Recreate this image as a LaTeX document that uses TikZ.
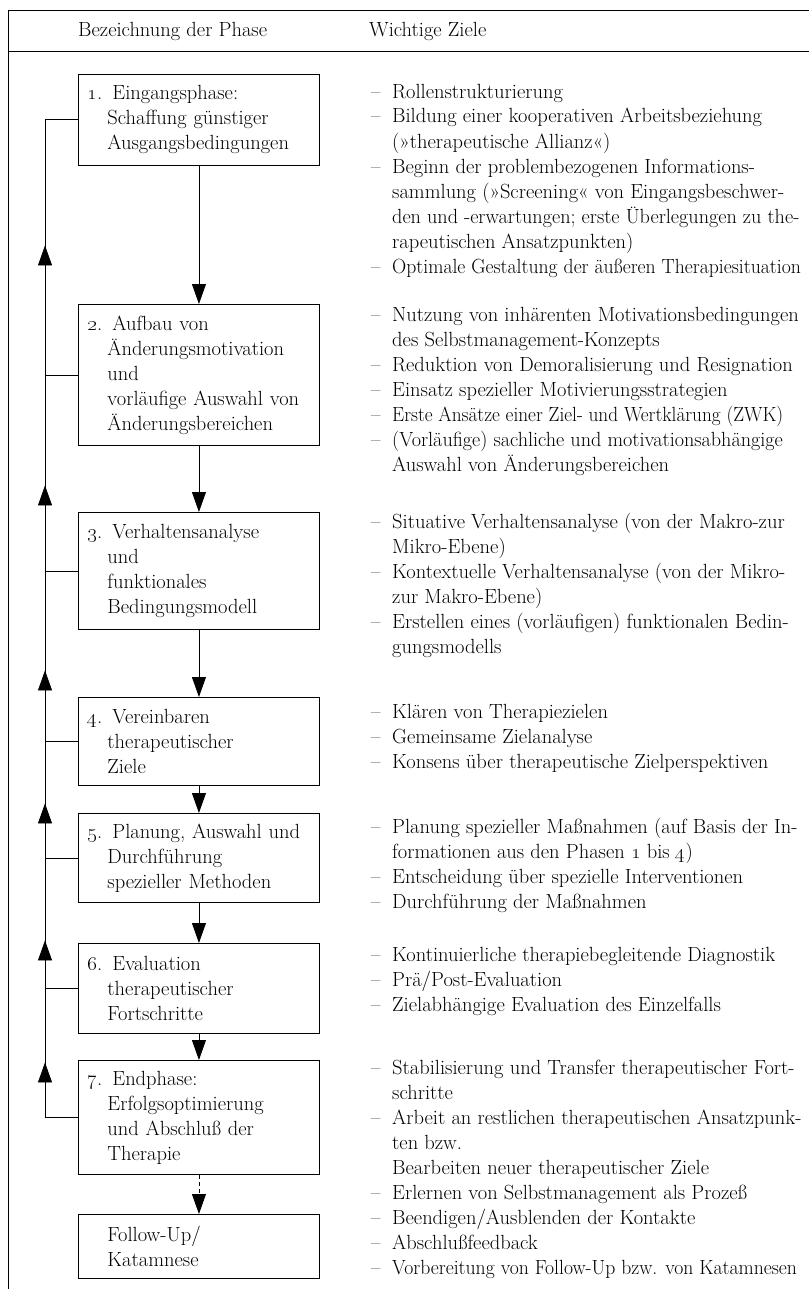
\documentclass[tikz,border=0pt]{standalone}
\usepackage{graphicx}
\usetikzlibrary{arrows.meta,decorations.markings}
% continuation indent inside the phase boxes
\newcommand\phind{\hspace*{20pt}}
% bullet and hanging indent of the goal lists
\newcommand\gbul{\makebox[21pt][l]{–}}
\newcommand\gind{\hspace*{21pt}}
% slightly narrower setting for the longest lines
\newcommand\tight[2][0.96]{\scalebox{#1}[1]{#2}}
\begin{document}
\begin{tikzpicture}[x=1pt,y=-1pt,
  every node/.style={inner sep=0pt,font=\fontsize{20.5}{25}\selectfont},
  rule/.style={line width=0.9pt},
  phase/.style={draw,line width=0.9pt,anchor=north west,minimum width=241pt,
    text width=223pt,inner xsep=9pt,align=left},
  % a goal list is placed by the baseline of its last line
  goals/.style={anchor=base west,align=left},
  fbtip/.tip={Triangle[length=20pt,width=14pt]},
  flow/.style={line width=0.9pt,-{Triangle[length=20pt,width=14pt]}}]
\useasboundingbox (0,0) rectangle (809,1289);

% table frame and header
\draw[rule] (8,1289) -- (8,10) -- (809,10);
\draw[rule] (8,51) -- (809,51);
\node[anchor=base west] (h1) at (78,37) {Bezeichnung der Phase};
\node[anchor=base west] (h2) at (369,37) {Wichtige Ziele};

% phases
\node[phase,minimum height=91pt] (p1) at (78,74)
  {\oldstylenums{1}. Eingangsphase:\\\phind Schaffung günstiger\\\phind Ausgangsbedingungen};
\node[phase,minimum height=141pt] (p2) at (78,304)
  {\oldstylenums{2}. Aufbau von\\\phind Änderungsmotivation\\\phind und\\\phind vorläufige Auswahl von\\\phind Änderungsbereichen};
\node[phase,minimum height=117pt] (p3) at (78,512)
  {\oldstylenums{3}. Verhaltensanalyse\\\phind und\\\phind funktionales\\\phind Bedingungsmodell};
\node[phase,minimum height=88pt] (p4) at (78,697)
  {\oldstylenums{4}. Vereinbaren\\\phind therapeutischer\\\phind Ziele};
\node[phase,minimum height=89pt] (p5) at (78,813)
  {\oldstylenums{5}. Planung, Auswahl und\\\phind Durchführung\\\phind spezieller Methoden};
\node[phase,minimum height=90pt] (p6) at (78,943)
  {\oldstylenums{6}. Evaluation\\\phind therapeutischer\\\phind Fortschritte};
\node[phase,minimum height=114pt] (p7) at (78,1060)
  {\oldstylenums{7}. Endphase:\\\phind Erfolgsoptimierung\\\phind und Abschluß der\\\phind Therapie};
\node[phase,minimum height=64pt] (p8) at (78,1214)
  {\phind Follow-Up/\\\phind Katamnese};

% forward flow
\draw[flow] (p1.south) -- (p2.north);
\draw[flow] (p2.south) -- (p3.north);
\draw[flow] (p3.south) -- (p4.north);
\draw[flow] (p4.south) -- (p5.north);
\draw[flow] (p5.south) -- (p6.north);
\draw[flow] (p6.south) -- (p7.north);
\draw[flow,dash pattern=on 4pt off 3pt] (p7.south) -- (p8.north);

% feedback loop on the left
\coordinate (fb) at (45,0);
\foreach \p in {p1,p2,p3,p4,p5,p6,p7}
  \draw[rule] (\p.west) -- (\p.west -| fb);
\draw[rule,postaction={decorate},decoration={markings,
    mark=at position 55pt with {\arrow{fbtip}},
    mark=at position 177pt with {\arrow{fbtip}},
    mark=at position 314pt with {\arrow{fbtip}},
    mark=at position 447pt with {\arrow{fbtip}},
    mark=at position 632pt with {\arrow{fbtip}},
    mark=at position 872pt with {\arrow{fbtip}}}]
  (p7.west -| fb) -- (p1.west -| fb);

% goals
\node[goals] (g1) at (371,273)
  {\gbul Rollenstrukturierung\\
   \gbul Bildung einer kooperativen Arbeitsbeziehung\\
   \gind (»therapeutische Allianz«)\\
   \gbul Beginn der problembezogenen Informations-\\
   \gind sammlung (»Screening« von Eingangsbeschwer-\\
   \gind \tight[0.985]{den und -erwartungen; erste Überlegungen zu the-}\\
   \gind rapeutischen Ansatzpunkten)\\
   \gbul \tight{Optimale Gestaltung der äußeren Therapiesituation}};
\node[goals] (g2) at (371,471)
  {\gbul Nutzung von inhärenten Motivationsbedingungen\\
   \gind des Selbstmanagement-Konzepts\\
   \gbul Reduktion von Demoralisierung und Resignation\\
   \gbul Einsatz spezieller Motivierungsstrategien\\
   \gbul \tight[0.94]{Erste Ansätze einer Ziel- und Wertklärung (ZWK)}\\
   \gbul \tight[0.985]{(Vorläufige) sachliche und motivationsabhängige}\\
   \gind Auswahl von Änderungsbereichen};
\node[goals] (g3) at (371,653)
  {\gbul Situative Verhaltensanalyse (von der Makro-zur\\
   \gind Mikro-Ebene)\\
   \gbul Kontextuelle Verhaltensanalyse (von der Mikro-\\
   \gind zur Makro-Ebene)\\
   \gbul Erstellen eines (vorläufigen) funktionalen Bedin-\\
   \gind gungsmodells};
\node[goals] (g4) at (371,768)
  {\gbul Klären von Therapiezielen\\
   \gbul Gemeinsame Zielanalyse\\
   \gbul Konsens über therapeutische Zielperspektiven};
\node[goals] (g5) at (371,908)
  {\gbul Planung spezieller Maßnahmen (auf Basis der In-\\
   \gind formationen aus den Phasen \oldstylenums{1} bis \oldstylenums{4})\\
   \gbul Entscheidung über spezielle Interventionen\\
   \gbul Durchführung der Maßnahmen};
\node[goals] (g6) at (371,1011)
  {\gbul Kontinuierliche therapiebegleitende Diagnostik\\
   \gbul Prä/Post-Evaluation\\
   \gbul Zielabhängige Evaluation des Einzelfalls};
\node[goals] (g7) at (371,1274)
  {\gbul Stabilisierung und Transfer therapeutischer Fort-\\
   \gind schritte\\
   \gbul Arbeit an restlichen therapeutischen Ansatzpunk-\\
   \gind ten bzw.\\
   \gind Bearbeiten neuer therapeutischer Ziele\\
   \gbul Erlernen von Selbstmanagement als Prozeß\\
   \gbul Beendigen/Ausblenden der Kontakte\\
   \gbul Abschlußfeedback\\
   \gbul \tight{Vorbereitung von Follow-Up bzw. von Katamnesen}};
\end{tikzpicture}
\end{document}
